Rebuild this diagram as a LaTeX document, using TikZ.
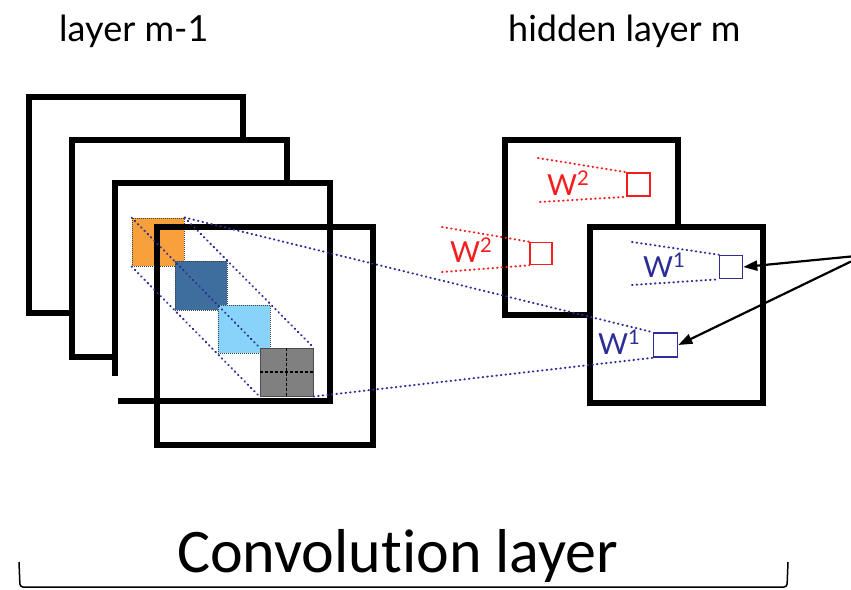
\documentclass[tikz,border=0pt]{standalone}
\usepackage{fontspec}
\setmainfont{Lato}
\newfontfamily\calib[Ligatures=NoCommon]{Carlito}
\usetikzlibrary{arrows.meta}
\definecolor{navyd}{RGB}{45,45,150}
\definecolor{redw}{RGB}{245,30,30}
\definecolor{orangeb}{RGB}{247,160,60}
\definecolor{darkb}{RGB}{62,110,158}
\definecolor{lightb}{RGB}{135,211,250}
\definecolor{grayb}{RGB}{128,128,128}
\begin{document}
\begin{tikzpicture}[x=1pt,y=-1pt,
  fmap/.style={draw=black,line width=5.5pt,fill=white,inner sep=0pt},
  fmapopen/.style={draw=black,line width=5.5pt,inner sep=0pt},
  patchbox/.style={draw=black!75,line width=1pt,densely dotted,inner sep=0pt},
  unitbox/.style={draw,line width=1.6pt,inner sep=0pt,minimum size=23pt},
  rfield/.style={line width=2pt,line cap=round,dash pattern=on 0.6pt off 4pt},
  wlab/.style={anchor=base west,inner sep=0pt,font=\fontsize{29}{31}\selectfont},
  titlelab/.style={anchor=base west,inner sep=0pt,font=\fontsize{36}{40}\selectfont},
  ptr/.style={line width=2.2pt,-{Triangle[length=14pt,width=10pt]}}
]
\useasboundingbox (0,0) rectangle (851,589);

% titles
\node[titlelab] (t1) at (59,41) {layer m-1};
\node[titlelab] (t2) at (508,41) {hidden layer m};

% left stack
\node[fmap,minimum width=214pt,minimum height=216pt] (L1) at (136,205) {};
\node[fmap,minimum width=215pt,minimum height=217pt] (L2) at (179.5,248.5) {};
\node[fmap,minimum width=215pt,minimum height=218pt] (L3) at (222.5,292) {};
\fill[white] (60,376) rectangle (118,430);

% patches
\node[patchbox,fill=orangeb,minimum width=52pt,minimum height=48pt] (P1) at (158,242) {};
\node[patchbox,fill=darkb,minimum width=52pt,minimum height=49pt] (P2) at (201,285.5) {};
\node[patchbox,fill=lightb,minimum width=52pt,minimum height=48pt] (P3) at (244,329) {};
\node[draw=black!70,line width=1pt,fill=grayb,inner sep=0pt,minimum width=53pt,minimum height=48pt] (P4) at (286.5,372) {};
\draw[black,line width=1.2pt,dash pattern=on 3pt off 2pt] (P4.north) -- (P4.south);
\draw[black,line width=1.2pt,dash pattern=on 3pt off 2pt] (P4.west) -- (P4.east);

% front input map (open)
\node[fmapopen,minimum width=216pt,minimum height=218pt] (L4) at (265,336) {};

% diagonal receptive-field lines
\draw[rfield,navyd] (P1.north west) -- (P4.north west);
\draw[rfield,navyd] (P1.south west) -- (P4.south west);
\draw[rfield,navyd] (P1.north east) -- (P4.north east);

% right: back feature map (W2)
\node[fmap,minimum width=173pt,minimum height=175pt] (R1) at (591.5,227.5) {};
\node[unitbox,draw=redw] (U1) at (638.5,184.5) {};
\coordinate (a1) at (538,158);
\coordinate (a2) at (540,202);
\draw[rfield,redw] (a1) -- (U1.north west);
\draw[rfield,redw] (a2) -- (U1.south west);
\node[wlab,text=redw] (w1) at (547,195) {W\textsuperscript{2}};

\node[unitbox,draw=redw,minimum size=22pt] (U2) at (541,253.5) {};
\coordinate (b1) at (442,227);
\coordinate (b2) at (442,272);
\draw[rfield,redw] (b1) -- (U2.north west);
\draw[rfield,redw] (b2) -- (U2.south west);
\node[wlab,text=redw] (w2) at (450,262) {W\textsuperscript{2}};

% right: front feature map (W1)
\node[fmap,minimum width=173pt,minimum height=176pt] (R2) at (676.5,315) {};
\node[unitbox,draw=navyd] (U3) at (731,267) {};
\coordinate (c1) at (632,242);
\coordinate (c2) at (632,285);
\draw[rfield,navyd] (c1) -- (U3.north west);
\draw[rfield,navyd] (c2) -- (U3.south west);
\node[wlab,text=navyd] (w3) at (643,277) {W\textsuperscript{1}};

\node[unitbox,draw=navyd,minimum size=24pt] (U4) at (665.5,345) {};
\node[wlab,text=navyd] (w4) at (598,354) {W\textsuperscript{1}};

% long receptive-field lines
\draw[rfield,navyd] (P1.north east) -- (U4.north west);
\draw[rfield,navyd] (P4.south east) -- (U4.south west);

% arrows
\coordinate (s1) at (851,256.5);
\coordinate (s2) at (851,261.5);
\draw[ptr] (s1) -- (U3.east);
\draw[ptr] (s2) -- (U4.east);

% bottom label and bracket
\node[anchor=base west,inner sep=0pt,font=\calib\fontsize{62}{66}\selectfont] (conv) at (177,572) {Convolut\kern0pt ion layer};
\draw[line width=1.5pt,rounded corners=3pt] (19,562) -- (20,587) -- (787,587) -- (788,562);
\end{tikzpicture}
\end{document}
